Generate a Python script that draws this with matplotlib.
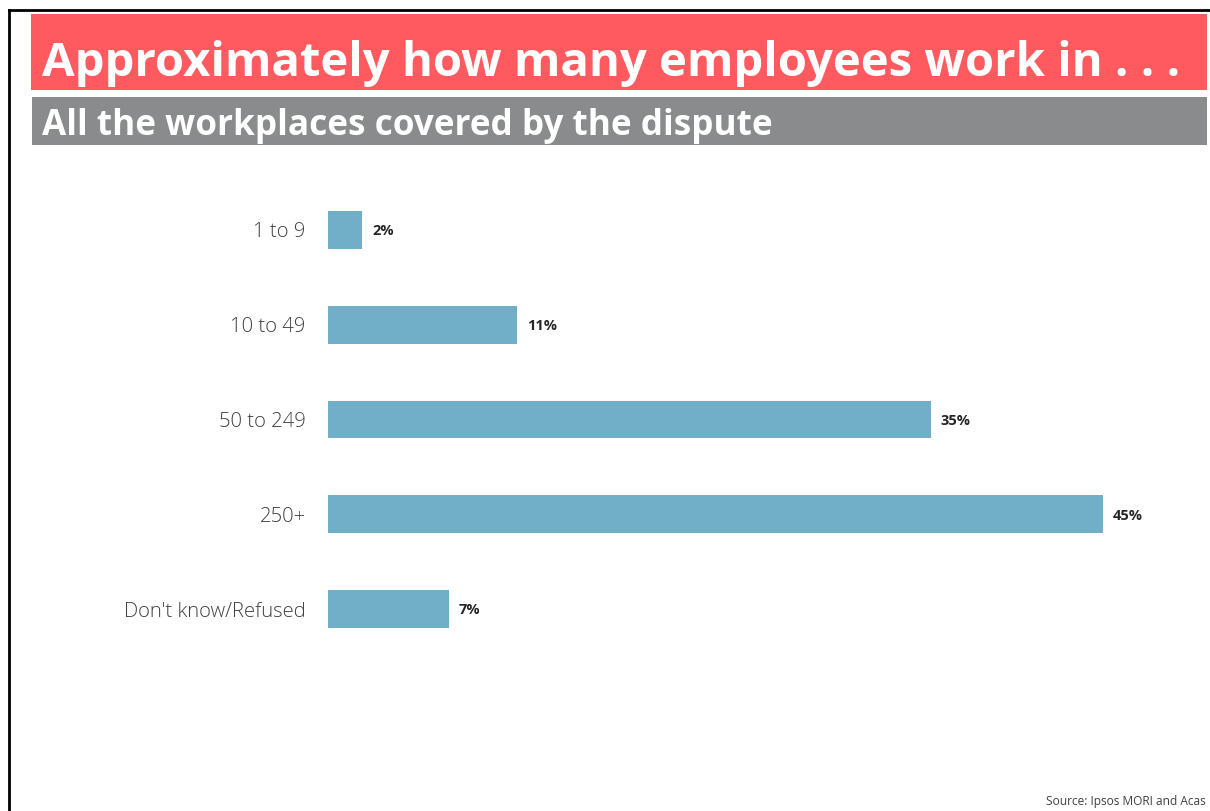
import matplotlib
matplotlib.use("Agg")
import matplotlib.pyplot as plt
from matplotlib.patches import Rectangle
from matplotlib.lines import Line2D

# Survey answers: workforce size across all workplaces in the dispute
categories = ["1 to 9", "10 to 49", "50 to 249", "250+", "Don't know/Refused"]
shares = [2, 11, 35, 45, 7]

W, H = 1210, 811
BAR_COLOR = "#71afc8"
RED = "#ff5a5f"
GREY = "#898b8d"

plt.rcParams["font.family"] = ["Open Sans", "DejaVu Sans"]

fig = plt.figure(figsize=(W / 100, H / 100), dpi=100)


def fx(px):
    return px / W


def fy(py):
    return 1 - py / H


# frame lines (top and left only)
fig.add_artist(Line2D([fx(9), fx(W)], [fy(10), fy(10)], color="black", lw=2))
fig.add_artist(Line2D([fx(9), fx(9)], [fy(10), fy(H)], color="black", lw=2))

# header bands
fig.add_artist(Rectangle((fx(31), fy(90)), fx(1176), 76 / H, color=RED, lw=0))
fig.add_artist(Rectangle((fx(32), fy(145)), fx(1175), 48 / H, color=GREY, lw=0))
fig.text(fx(42), fy(76), "Approximately how many employees work in . . .",
         color="white", fontsize=34, fontweight="bold", va="baseline")
fig.text(fx(42), fy(135), "All the workplaces covered by the dispute",
         color="white", fontsize=25.3, fontweight="bold", va="baseline")

# bar chart area: x=0 at 328px, 45% at 1103px
px_per_pct = (1103 - 328) / 45
xmax = 50
ax = fig.add_axes([fx(328), fy(656.5), fx(xmax * px_per_pct), (656.5 - 182.5) / H])
ypos = list(range(len(categories)))
ax.barh(ypos, shares, height=0.4, color=BAR_COLOR)
ax.set_xlim(0, xmax)
ax.set_ylim(len(categories) - 0.5, -0.5)
for y, v in zip(ypos, shares):
    ax.annotate(f"{v}%", (v, y), xytext=(7, -1), textcoords="offset points",
                va="center", ha="left", fontsize=10.5, fontweight="bold",
                color="#262626")
ax.set_yticks(ypos)
ax.set_yticklabels(categories, fontsize=14.6, fontweight="light", color="#404040")
ax.tick_params(axis="y", length=0, pad=16)
ax.set_xticks([])
for s in ax.spines.values():
    s.set_visible(False)

fig.text(fx(1206), fy(801), "Source: Ipsos MORI and Acas", ha="right",
         va="center", fontsize=8.6, color="#404040")

fig.savefig("out.png", dpi=100)
